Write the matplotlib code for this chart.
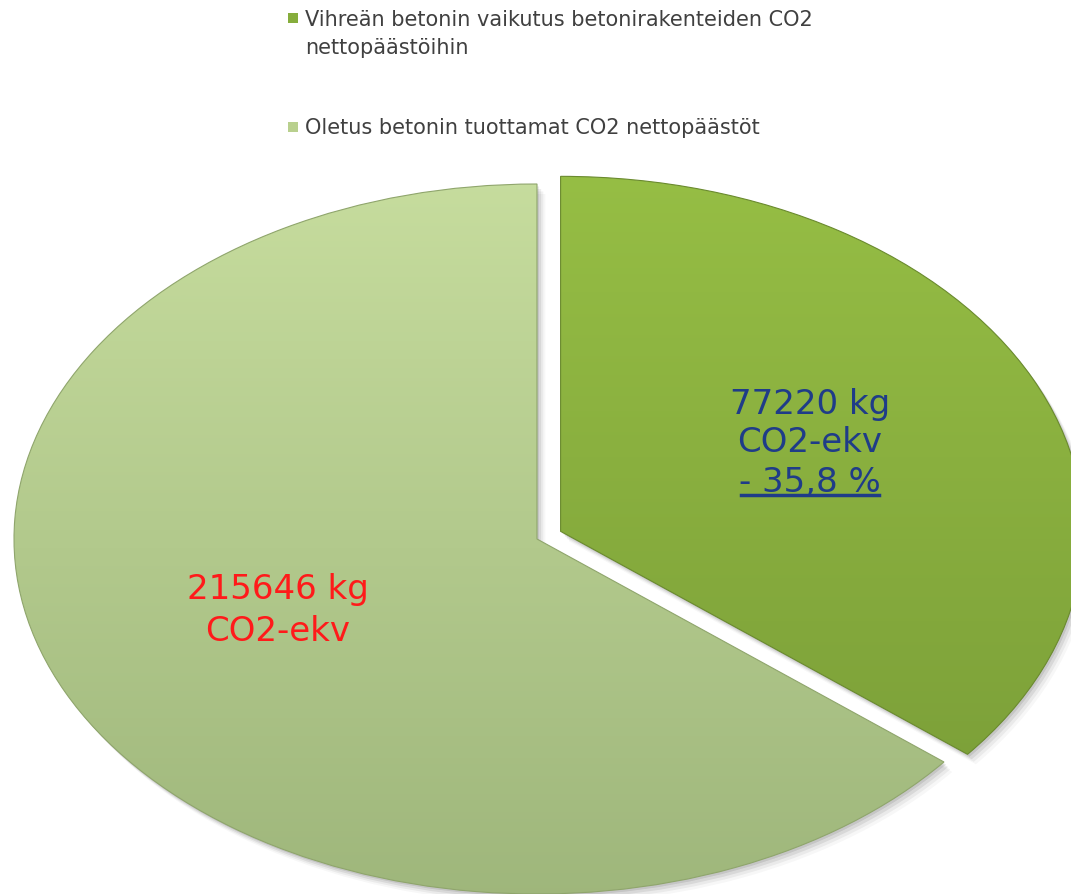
import numpy as np
import matplotlib
matplotlib.use("Agg")
import matplotlib.pyplot as plt
from matplotlib.colors import LinearSegmentedColormap
from matplotlib.patches import Rectangle, PathPatch
from matplotlib.transforms import Affine2D

plt.rcParams['font.family'] = ['DejaVu Sans']

# Data
categories = [
    "Vihreän betonin vaikutus betonirakenteiden CO2\nnettopäästöihin",
    "Oletus betonin tuottamat CO2 nettopäästöt",
]
reduction_kg = 77220      # effect of green concrete
baseline_kg = 215646      # default net CO2 emissions of concrete
reduction_pct_label = "- 35,8 %"

sizes = [reduction_kg, baseline_kg - reduction_kg]

# Gradient colours (top, bottom) for each slice
grad_colors = [("#97bf45", "#769936"), ("#c8de9f", "#9db57a")]
edge_colors = ["#6a8a2e", "#8fa56c"]
legend_colors = ["#86ad3c", "#b9d08e"]

fig = plt.figure(figsize=(10.71, 8.95), dpi=100)
fig.patch.set_facecolor("white")

# full-figure axes; limits squash the unit pie into a wide ellipse
ax = fig.add_axes([0.0, 0.0, 1.0, 1.0])
wedges, _ = ax.pie(sizes, startangle=90, counterclock=False,
                   explode=[0.05, 0.0], radius=1.0,
                   wedgeprops=dict(linewidth=0))
XLIM = (-537 / 523, (1071 - 537) / 523)
YLIM = (-1.0, (895 - 355) / 355)
ax.set_aspect('auto')
ax.axis('off')

# soft drop shadow + gradient fill for each slice
for w, (ctop, cbot), ec in zip(wedges, grad_colors, edge_colors):
    w.set_facecolor("none")
    w.set_edgecolor("none")
    path = w.get_path()
    for k, a in enumerate([0.09, 0.07, 0.05, 0.03]):
        sh = PathPatch(path,
                       transform=Affine2D().translate(0.004 * (k + 1), -0.007 * (k + 1)) + ax.transData,
                       facecolor="black", alpha=a, edgecolor="none", zorder=0.5)
        ax.add_patch(sh)
    cmap = LinearSegmentedColormap.from_list("g", [cbot, ctop])
    grad = np.linspace(0, 1, 256).reshape(-1, 1)
    im = ax.imshow(grad, cmap=cmap, origin="lower", extent=[-1.2, 1.2, -1.1, 1.1],
                   aspect="auto", zorder=1, interpolation="bilinear")
    clip = PathPatch(path, transform=ax.transData, facecolor="none", edgecolor="none")
    ax.add_patch(clip)
    im.set_clip_path(clip)
    ax.add_patch(PathPatch(path, transform=ax.transData, facecolor="none",
                           edgecolor=ec, linewidth=0.8, zorder=2))
ax.set_xlim(*XLIM)
ax.set_ylim(*YLIM)

# value labels
lab_font = dict(fontsize=24.5, ha="center", va="center", zorder=5)
blue = "#1f3c88"
ax.text(0.522, 0.383, f"{reduction_kg} kg", color=blue, **lab_font)
ax.text(0.522, 0.275, "CO2-ekv", color=blue, **lab_font)
t3 = ax.text(0.522, 0.162, reduction_pct_label, color=blue, **lab_font)

ax.text(-0.495, -0.140, f"{baseline_kg} kg", color="#ff1a1a", **lab_font)
ax.text(-0.495, -0.259, "CO2-ekv", color="#ff1a1a", **lab_font)

# underline the percentage
fig.canvas.draw()
bb = t3.get_window_extent(renderer=fig.canvas.get_renderer())
inv = fig.transFigure.inverted()
(x0, y0), (x1, y1) = inv.transform([(bb.x0, bb.y0), (bb.x1, bb.y0)])
fig.add_artist(plt.Line2D([x0 + 0.002, x1 - 0.002], [y0 + 0.003, y0 + 0.003],
                          color=blue, linewidth=2.5, transform=fig.transFigure, zorder=6))

# legend
W, H = 1071, 895
leg_items = [(288, 19, categories[0]), (288, 128, categories[1])]
for (px, py, txt), col in zip(leg_items, legend_colors):
    fig.add_artist(Rectangle((px / W, 1 - (py + 5) / H), 10 / W, 10 / H,
                             transform=fig.transFigure, facecolor=col,
                             edgecolor="none"))
    fig.text((px + 17) / W, 1 - (py - 9) / H if "\n" in txt else 1 - py / H, txt,
             fontsize=15, color="#404040",
             ha="left", va="top" if "\n" in txt else "center",
             linespacing=1.5)

fig.savefig("out.png", dpi=100, facecolor="white")
